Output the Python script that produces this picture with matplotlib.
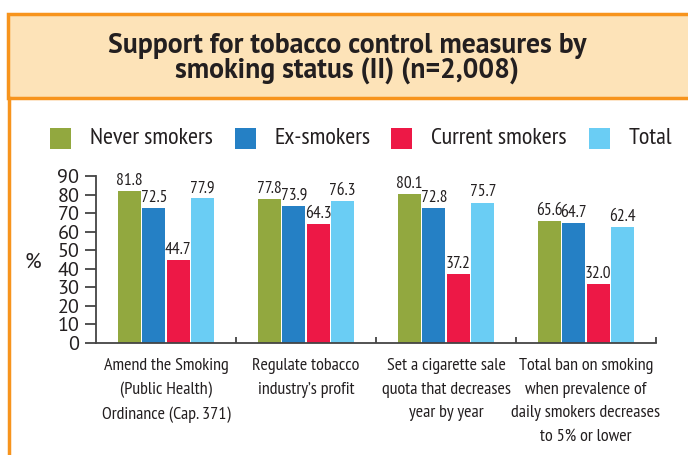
import numpy as np
import matplotlib
matplotlib.use("Agg")
import matplotlib.pyplot as plt
from matplotlib.patches import Rectangle
from matplotlib.lines import Line2D
import logging
logging.getLogger("matplotlib.font_manager").setLevel(logging.ERROR)

categories = [
    "Amend the Smoking\n(Public Health)\nOrdinance (Cap. 371)",
    "Regulate tobacco\nindustry\u2019s profit",
    "Set a cigarette sale\nquota that decreases\nyear by year",
    "Total ban on smoking\nwhen prevalence of\ndaily smokers decreases\nto 5% or lower",
]
series = ["Never smokers", "Ex-smokers", "Current smokers", "Total"]
never_smokers = [81.8, 77.8, 80.1, 65.6]
ex_smokers = [72.5, 73.9, 72.8, 64.7]
current_smokers = [44.7, 64.3, 37.2, 32.0]
total = [77.9, 76.3, 75.7, 62.4]
yticks = [0, 10, 20, 30, 40, 50, 60, 70, 80, 90]

COLORS = ["#92A83F", "#2580C5", "#ED1846", "#6ACDF4"]
ORANGE = "#F7941D"
BEIGE = "#FDE3B8"
TXT = "#231F20"
NARROW = ["PT Sans Narrow", "Roboto Condensed", "Fira Sans Condensed", "Archivo Narrow", "DejaVu Sans"]
REGULAR = ["PT Sans", "Open Sans", "Liberation Sans"]

W, H = 688, 455
fig = plt.figure(figsize=(W / 100, H / 100), dpi=100)

# header band + orange frame
fig.patches.append(Rectangle((8 / W, 1 - 98 / H), 1, (98 - 14) / H, transform=fig.transFigure,
                             facecolor=BEIGE, edgecolor=ORANGE, linewidth=2.5, zorder=0))
fig.lines.append(Line2D([9 / W, 9 / W], [0, 1 - 98 / H], transform=fig.transFigure,
                        color=ORANGE, linewidth=2.5))
fig.text(347 / W, 1 - 46 / H, "Support for tobacco control measures by",
         ha="center", va="center", fontsize=20, fontweight="bold", color=TXT, family=REGULAR)
fig.text(347 / W, 1 - 71 / H, "smoking status (II) (n=2,008)",
         ha="center", va="center", fontsize=20, fontweight="bold", color=TXT, family=REGULAR)

ax = fig.add_axes([96 / W, 1 - 343 / H, (656 - 96) / W, (343 - 176) / H])
values = [never_smokers, ex_smokers, current_smokers, total]
x = np.arange(len(categories))
step, bw = 0.175, 0.164
for i, vals in enumerate(values):
    pos = x + (i - 1.5) * step
    ax.bar(pos, vals, width=bw, color=COLORS[i], zorder=2)
    for px, v in zip(pos, vals):
        ax.annotate(f"{v:.1f}", (px, v), xytext=(0, 1.5), textcoords="offset points",
                    ha="center", va="bottom", fontsize=12.5, color=TXT, family=NARROW,
                    annotation_clip=False)

ax.set_xlim(-0.5, 3.5)
ax.set_ylim(0, 90)
ax.set_yticks(yticks)
ax.tick_params(axis="y", direction="out", length=8, width=1.3, color="#444444",
               labelsize=14.5, labelcolor=TXT, pad=4)
ax.set_xticks([0.5, 1.5, 2.5, 3.5])
ax.set_xticklabels([])
ax.tick_params(axis="x", direction="in", length=4, width=1.3, color="#444444")
for s in ["top", "right"]:
    ax.spines[s].set_visible(False)
for s in ["left", "bottom"]:
    ax.spines[s].set_color("#444444")
    ax.spines[s].set_linewidth(1.3)
for lab in ax.get_yticklabels():
    lab.set_family(REGULAR)

fig.text(33 / W, 1 - 262 / H, "%", ha="center", va="center", fontsize=15.5, color=TXT,
         family=REGULAR)

for xi, cat in zip(x, categories):
    ax.text(xi, -8, cat, ha="center", va="top", fontsize=13, color=TXT, family=NARROW,
            linespacing=1.65, transform=ax.transData)

# legend
sq_x = [50, 235, 391, 589]
for i, name in enumerate(series):
    fig.patches.append(Rectangle((sq_x[i] / W, 1 - 149 / H), 21 / W, 21 / H,
                                 transform=fig.transFigure, facecolor=COLORS[i], edgecolor="none"))
    fig.text((sq_x[i] + 40) / W, 1 - 138 / H, name, ha="left", va="center", fontsize=17.5,
             color=TXT, family=NARROW)

fig.savefig("out.png", dpi=100)
